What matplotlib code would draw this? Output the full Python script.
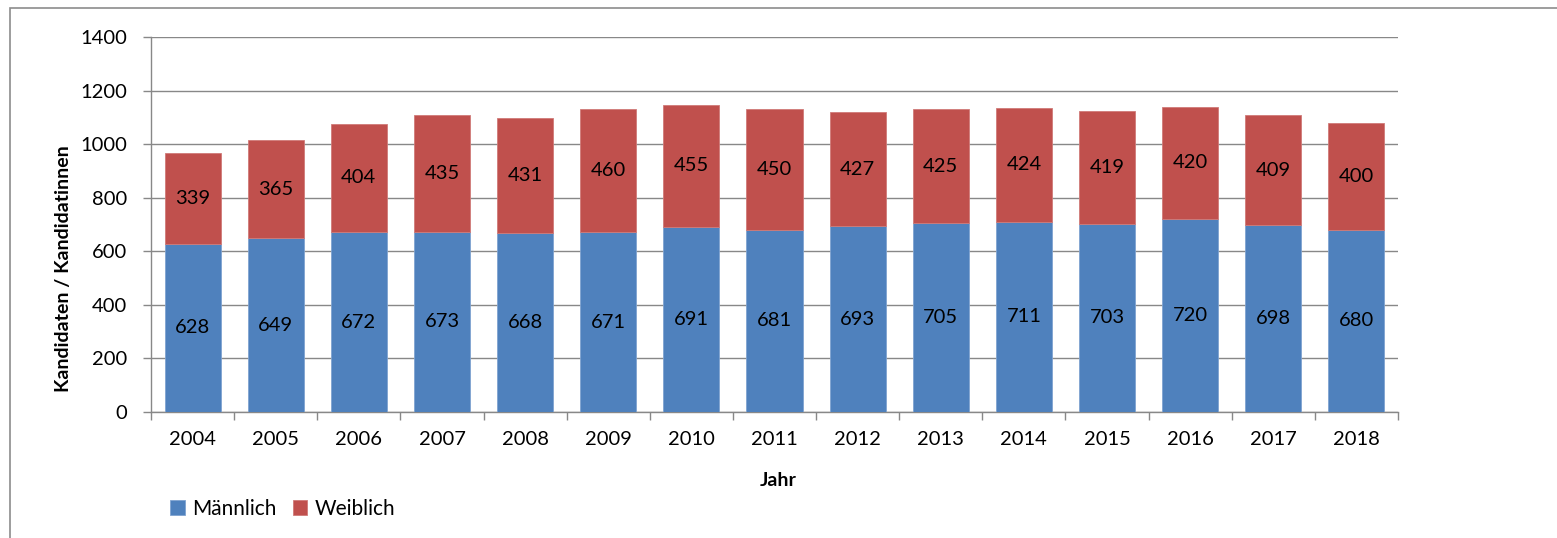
import numpy as np
import matplotlib.pyplot as plt
from matplotlib.patches import Rectangle

years = [str(y) for y in range(2004, 2019)]
maennlich = [628, 649, 672, 673, 668, 671, 691, 681, 693, 705, 711, 703, 720, 698, 680]
weiblich = [339, 365, 404, 435, 431, 460, 455, 450, 427, 425, 424, 419, 420, 409, 400]

plt.rcParams['font.family'] = ['Lato', 'DejaVu Sans']

W, H = 1557, 538
fig = plt.figure(figsize=(W / 100, H / 100), dpi=100)
fig.patches.append(Rectangle((10 / W, -0.5), 2, 1.5 - 8 / H, transform=fig.transFigure,
                             fill=False, edgecolor='#8c8c8c', linewidth=1.2))

ax = fig.add_axes([151 / W, 1 - 412 / H, (1398 - 151) / W, (412 - 37) / H])

x = np.arange(len(years))
blue = '#4F81BD'
red = '#C0504D'
b1 = ax.bar(x, maennlich, width=0.675, color=blue, edgecolor='#7fa3d0', linewidth=0.6,
            label='Männlich', zorder=3)
b2 = ax.bar(x, weiblich, width=0.675, bottom=maennlich, color=red, edgecolor='#d07a78',
            linewidth=0.6, label='Weiblich', zorder=3)
ax.bar_label(b1, labels=[str(v) for v in maennlich], label_type='center', fontsize=14.5)
ax.bar_label(b2, labels=[str(v) for v in weiblich], label_type='center', fontsize=14.5)

ax.set_xlim(-0.5, len(years) - 0.5)
ax.set_ylim(0, 1400)
ax.set_yticks(range(0, 1401, 200))
ax.set_xticks(x)
ax.set_xticklabels(years)
ax.set_xticks(np.arange(-0.5, len(years)), minor=True)
ax.tick_params(axis='x', which='major', length=0, pad=14, labelsize=14.5)
ax.tick_params(axis='x', which='minor', length=6, color='#888888', width=1)
ax.tick_params(axis='y', length=6, color='#888888', width=1, labelsize=14.5, pad=11)

ax.grid(axis='y', color='#888888', linewidth=1, zorder=0)
for s in ['top', 'right']:
    ax.spines[s].set_visible(False)
for s in ['left', 'bottom']:
    ax.spines[s].set_color('#888888')
    ax.spines[s].set_linewidth(1)

ax.set_ylabel('Kandidaten / Kandidatinnen', fontsize=14, fontweight='bold')
ax.yaxis.set_label_coords(63 / W, 0.5, transform=fig.transFigure)
ax.set_xlabel('Jahr', fontsize=14, fontweight='bold')
ax.xaxis.set_label_coords(0.5, 1 - 480 / H, transform=fig.transFigure)
ax.xaxis.label.set_verticalalignment('center')
ax.yaxis.label.set_verticalalignment('center')

ax.legend(loc='center left', bbox_to_anchor=(170 / W, 1 - 509 / H), bbox_transform=fig.transFigure,
          ncol=2, frameon=False, fontsize=15, handlelength=0.7, handleheight=0.7,
          handletextpad=0.35, columnspacing=0.8, borderpad=0, borderaxespad=0)

fig.savefig('out.png', dpi=100)
